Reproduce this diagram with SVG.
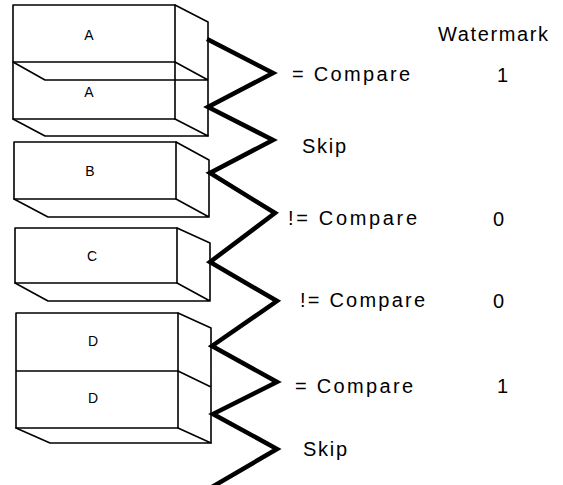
<svg xmlns="http://www.w3.org/2000/svg" width="563" height="485" viewBox="0 0 563 485">
  <style>
    .edge { fill: none; stroke: #000; stroke-width: 1.6; stroke-linejoin: round; stroke-linecap: round; }
    .lbl { font-family: "Liberation Sans", Arial, sans-serif; font-size: 14px; fill: #000; text-anchor: middle; }
    .txt { font-family: "Liberation Sans", Arial, sans-serif; font-size: 20px; fill: #000; }
    .zig { fill: none; stroke: #000; stroke-width: 4.5; stroke-linejoin: miter; stroke-miterlimit: 10; stroke-linecap: butt; }
  </style>
  <rect width="563" height="485" fill="#fff"/>

  <!-- stacked record A (two entries) -->
  <g id="box-a">
    <path class="edge" d="M13,5 H175 V119 H13 Z M13,62 H175"/>
    <path class="edge" d="M175,5 L208,22 V136 M13,62 L45,80 H208 M175,62 L208,80"/>
    <path class="edge" d="M13,119 L45,136 H208 M175,119 L208,136"/>
    <text class="lbl" x="89" y="40">A</text>
    <text class="lbl" x="89" y="97">A</text>
  </g>

  <!-- record B -->
  <g id="box-b">
    <path class="edge" d="M14,142 H176 V199 H14 Z"/>
    <path class="edge" d="M176,142 L209,160 V217 M14,199 L48,217 H209 M176,199 L209,217"/>
    <text class="lbl" x="90" y="176">B</text>
  </g>

  <!-- record C -->
  <g id="box-c">
    <path class="edge" d="M15,228 H177 V283 H15 Z"/>
    <path class="edge" d="M177,228 L210,243 V301 M15,283 L48,301 H210 M177,283 L210,301"/>
    <text class="lbl" x="92" y="261">C</text>
  </g>

  <!-- stacked record D (two entries) -->
  <g id="box-d">
    <path class="edge" d="M16,313 H178 V428 H16 Z M16,371 H178"/>
    <path class="edge" d="M178,313 L211,328 V443 M178,371 L211,387"/>
    <path class="edge" d="M16,428 L50,443 H211 M178,428 L211,443"/>
    <text class="lbl" x="93" y="346">D</text>
    <text class="lbl" x="93" y="403">D</text>
  </g>

  <!-- comparison zigzag -->
  <g id="connectors">
    <polyline class="zig" points="207,39 273,73 208,107 273,140 210,173 275,213 210,262 277,301 212,346 277,382 213,414 277,449 212,487"/>
  </g>

  <!-- operation and watermark column -->
  <g id="labels">
    <text class="txt" x="438" y="41" textLength="110" lengthAdjust="spacing">Watermark</text>
    <text class="txt" x="292" y="81" textLength="118" lengthAdjust="spacing">= Compare</text>
    <text class="txt" x="497" y="82">1</text>
    <text class="txt" x="302" y="153" textLength="44" lengthAdjust="spacing">Skip</text>
    <text class="txt" x="288" y="225" textLength="129" lengthAdjust="spacing">!= Compare</text>
    <text class="txt" x="493" y="226">0</text>
    <text class="txt" x="300" y="307" textLength="125" lengthAdjust="spacing">!= Compare</text>
    <text class="txt" x="493" y="308">0</text>
    <text class="txt" x="295" y="393" textLength="118" lengthAdjust="spacing">= Compare</text>
    <text class="txt" x="497" y="393">1</text>
    <text class="txt" x="303" y="456" textLength="44" lengthAdjust="spacing">Skip</text>
  </g>
</svg>
